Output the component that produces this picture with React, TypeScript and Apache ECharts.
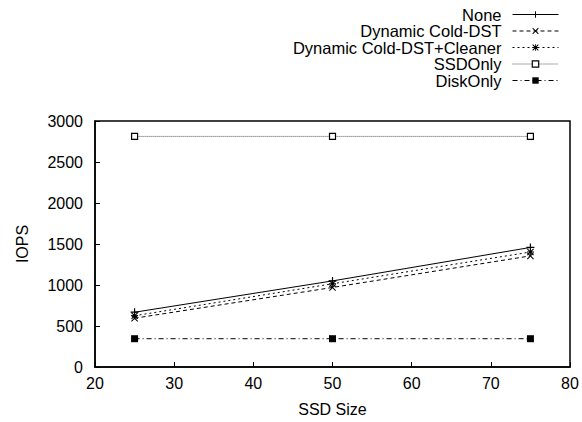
import React, { useEffect, useRef } from "react";
import * as echarts from "echarts";

const ssdSizes = [25, 50, 75];
const seriesNames = ["None", "Dynamic Cold-DST", "Dynamic Cold-DST+Cleaner", "SSDOnly", "DiskOnly"];
const noneValues = [668, 1050, 1458];
const coldDstValues = [595, 970, 1355];
const cleanerValues = [625, 1015, 1402];
const ssdOnlyValues = [2812, 2812, 2812];
const diskOnlyValues = [345, 345, 345];
const xTicks = { min: 20, max: 80, interval: 10 };
const yTicks = { min: 0, max: 3000, interval: 500 };

const FONT = "Liberation Sans";

const PLUS = "path://M3.4,0H4.6V8H3.4Z M0,3.4H8V4.6H0Z";
const CROSS = "path://M0,0.8L0.8,0L8,7.2L7.2,8Z M7.2,0L8,0.8L0.8,8L0,7.2Z";
const STAR =
  "path://M3.5,0H4.5V8H3.5Z M0,3.5H8V4.5H0Z M0,0.9L0.9,0L8,7.1L7.1,8Z M7.1,0L8,0.9L0.9,8L0,7.1Z";

export default function App() {
  const ref = useRef<HTMLDivElement>(null);
  useEffect(() => {
    if (!ref.current) return;
    const chart = echarts.init(ref.current, undefined, { renderer: "svg" });
    const values = [noneValues, coldDstValues, cleanerValues, ssdOnlyValues, diskOnlyValues];
    const styles: any[] = [
      { symbol: PLUS, size: 8, line: { type: "solid", color: "#000" }, item: { color: "#000" } },
      { symbol: CROSS, size: 7, line: { type: [4, 3], color: "#000" }, item: { color: "#000" } },
      { symbol: STAR, size: 7, line: { type: [2, 3], color: "#000" }, item: { color: "#000" } },
      {
        symbol: "rect",
        size: 6,
        line: { type: [1, 1], color: "#555" },
        item: { color: "#fff", borderColor: "#000", borderWidth: 1.2 },
      },
      { symbol: "rect", size: 7, line: { type: [5, 3, 1, 3], color: "#000" }, item: { color: "#000" } },
    ];
    const centers = [15, 31.5, 48, 64.5, 81];
    const legends = seriesNames.map((name, i) => ({
      data: [name],
      orient: "vertical",
      align: "right",
      right: 23,
      top: centers[i] - 9,
      padding: 0,
      itemWidth: 46,
      itemHeight: 8,
      selectedMode: false,
      textStyle: { fontFamily: FONT, fontSize: 16.5, color: "#000", padding: [0, 6, 0, 0] },
      itemStyle: i === 3 ? { color: "#fff", borderColor: "#000", borderWidth: 1.2 } : { borderWidth: 0 },
      lineStyle: { width: 1 },
    }));
    chart.setOption({
      animation: false,
      backgroundColor: "#fff",
      grid: {
        left: 95,
        right: 12,
        top: 121,
        bottom: 54,
        show: true,
        borderColor: "#000",
        borderWidth: 1.5,
        containLabel: false,
      },
      legend: legends,
      xAxis: {
        type: "value",
        min: xTicks.min,
        max: xTicks.max,
        interval: xTicks.interval,
        name: "SSD Size",
        nameLocation: "middle",
        nameGap: 34,
        nameTextStyle: { fontFamily: FONT, fontSize: 16, color: "#000" },
        axisLine: { show: true, lineStyle: { color: "#000", width: 1.5 } },
        axisTick: { show: true, inside: true, length: 5, lineStyle: { color: "#000", width: 1 } },
        axisLabel: { fontFamily: FONT, fontSize: 16, color: "#000", margin: 8, formatter: (v: number) => String(v) },
        splitLine: { show: false },
      },
      yAxis: {
        type: "value",
        min: yTicks.min,
        max: yTicks.max,
        interval: yTicks.interval,
        name: "IOPS",
        nameLocation: "middle",
        nameGap: 65,
        nameTextStyle: { fontFamily: FONT, fontSize: 16, color: "#000" },
        axisLine: { show: true, lineStyle: { color: "#000", width: 1.5 } },
        axisTick: { show: true, inside: true, length: 5, lineStyle: { color: "#000", width: 1 } },
        axisLabel: { fontFamily: FONT, fontSize: 16, color: "#000", margin: 12, formatter: (v: number) => String(v) },
        splitLine: { show: false },
      },
      series: seriesNames.map((name, i) => ({
        name,
        type: "line",
        data: ssdSizes.map((x, j) => [x, values[i][j]]),
        symbol: styles[i].symbol,
        symbolSize: styles[i].size,
        showSymbol: true,
        lineStyle: { width: 1, ...styles[i].line },
        itemStyle: styles[i].item,
        emphasis: { disabled: true },
        z: 2 + i,
      })),
    });
    return () => chart.dispose();
  }, []);
  return <div ref={ref} style={{ width: 582, height: 422, position: "absolute", left: 0, top: 0 }} />;
}
